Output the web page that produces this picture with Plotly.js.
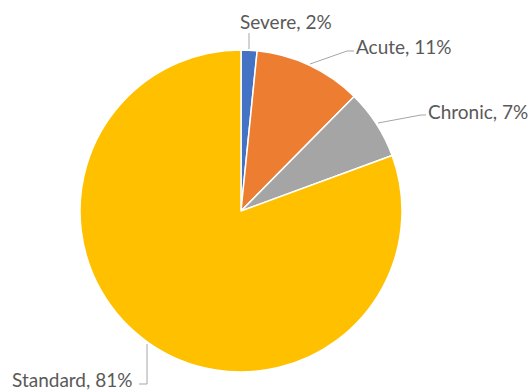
<!DOCTYPE html>
<html>
<head>
<meta charset="utf-8">
<script src="https://cdn.plot.ly/plotly-3.0.1.min.js"></script>
<style>html,body{margin:0;padding:0;background:#fff;}#chart{width:529px;height:390px;}</style>
</head>
<body>
<div id="chart"></div>
<script>
const categories = ["Severe", "Acute", "Chronic", "Standard"];
const shares = [1.6, 10.8, 7.0, 80.6];
const sliceColors = ["#4472C4", "#ED7D31", "#A5A5A5", "#FFC000"];

const W = 529, H = 390;
const px = x => x / W;
const py = y => 1 - y / H;

const total = shares.reduce((a, b) => a + b, 0);
const labelText = categories.map((c, i) => c + ", " + Math.round(shares[i] / total * 100) + "%");

// label placement (pixels): left edge x, center y
const labelPos = [
  {x: 238, y: 21},
  {x: 354, y: 46},
  {x: 426, y: 112},
  {x: 10, y: 379}
];
// leader lines (pixel polylines)
const leaders = [
  [[249, 33], [249, 49]],
  [[310, 64], [347, 51], [354, 51]],
  [[378, 123], [421, 115], [426, 115]],
  [[147, 344], [147, 384], [139, 384]]
];

const annotations = labelText.map((t, i) => ({
  text: t, xref: "paper", yref: "paper",
  x: px(labelPos[i].x), y: py(labelPos[i].y),
  xanchor: "left", yanchor: "middle", showarrow: false,
  font: {family: "Lato, 'Open Sans', sans-serif", size: 19, color: "#595959"}
}));

const shapes = [];
leaders.forEach(pts => {
  for (let k = 0; k < pts.length - 1; k++) {
    shapes.push({type: "line", xref: "paper", yref: "paper",
      x0: px(pts[k][0]), y0: py(pts[k][1]), x1: px(pts[k + 1][0]), y1: py(pts[k + 1][1]),
      line: {color: "#A6A6A6", width: 1}});
  }
});

const data = [{
  type: "pie",
  labels: categories,
  values: shares,
  sort: false,
  direction: "clockwise",
  rotation: 0,
  marker: {colors: sliceColors, line: {color: "#FFFFFF", width: 1.5}},
  textinfo: "none",
  hoverinfo: "label+percent",
  showlegend: false,
  domain: {x: [80 / W, 402 / W], y: [1 - 372 / H, 1 - 50 / H]}
}];

const layout = {
  width: W, height: H,
  margin: {l: 0, r: 0, t: 0, b: 0},
  paper_bgcolor: "#FFFFFF",
  showlegend: false,
  annotations: annotations,
  shapes: shapes
};

Plotly.newPlot("chart", data, layout, {staticPlot: true, displayModeBar: false});
</script>
</body>
</html>
